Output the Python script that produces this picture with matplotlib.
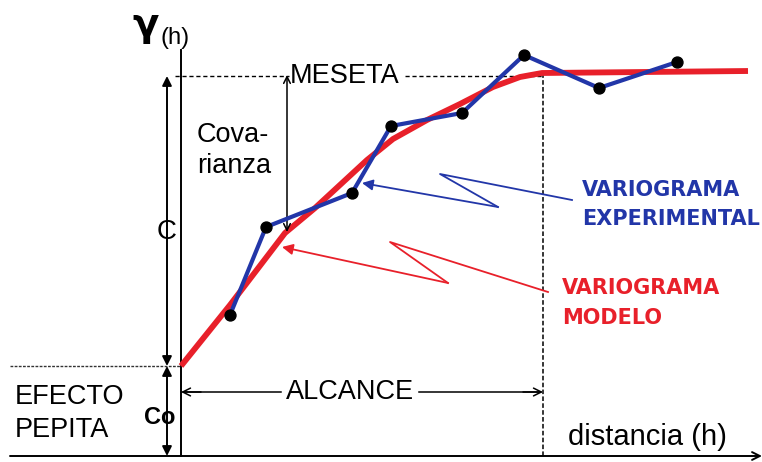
import matplotlib
matplotlib.use("Agg")
import matplotlib.pyplot as plt

# Experimental variogram (distance h, gamma)
exp_h = [49, 85, 171, 210, 281, 343, 418, 496]
exp_g = [141, 229, 263, 330, 343, 401, 368, 394]

# Model variogram curve points
mod_h = [0, 49, 104, 134, 186, 212, 246, 279, 312, 339, 361, 567]
mod_g = [90, 151, 223, 248, 296, 317, 336, 352, 369, 379, 383, 385]

nugget = 90      # Co level
sill = 380       # MESETA level
rango = 362      # ALCANCE

fig = plt.figure(figsize=(7.62, 4.62), dpi=100)
ax = fig.add_axes([0, 0, 1, 1])
ax.set_xlim(-181, 581)
ax.set_ylim(-6, 456)
ax.axis("off")

FONT = "Liberation Sans"
BLUE = "#2236a8"
RED = "#e8202a"

# axes
ax.plot([0, 0], [0, 406], color="black", lw=1.4)
ax.annotate("", xy=(581, 0), xytext=(-171, 0),
            arrowprops=dict(arrowstyle="->", lw=1.4, color="black", mutation_scale=14,
                            shrinkA=0, shrinkB=0))

# nugget dotted line
ax.plot([-171, 0], [nugget, nugget], color="#333333", lw=1.0, ls=(0, (2, 1)))
# sill dashed line (interrupted by text)
ax.plot([-6, 108], [sill, sill], color="black", lw=1.0, ls=(0, (3, 2)))
ax.plot([224, rango], [sill, sill], color="black", lw=1.0, ls=(0, (3, 2)))
# range dashed line
ax.plot([rango, rango], [0, 384], color="black", lw=1.1, ls=(0, (3, 1.5)))

# model & experimental
ax.plot(mod_h, mod_g, color=RED, lw=4.2, solid_capstyle="butt", solid_joinstyle="round", zorder=3)
ax.plot(exp_h, exp_g, color=BLUE, lw=3.0, zorder=4)
ax.scatter(exp_h, exp_g, s=62, color="black", zorder=5)

# C and Co arrows
ap = dict(arrowstyle="<|-|>", lw=1.4, color="black", mutation_scale=14, shrinkA=0, shrinkB=0)
ax.annotate("", xy=(-14, sill), xytext=(-14, nugget), arrowprops=ap)
ax.annotate("", xy=(-14, nugget), xytext=(-14, 0), arrowprops=ap)
ax.text(-14, 224, "C", fontsize=20, family=FONT, ha="center", va="center")
ax.text(-21, 38, "Co", fontsize=17, family=FONT, fontweight="bold", ha="center", va="center")

# Covarianza arrow
ax.annotate("", xy=(106, sill + 1), xytext=(106, 224),
            arrowprops=dict(arrowstyle="<->", lw=1.1, color="black", mutation_scale=12,
                            shrinkA=0, shrinkB=0))
ax.text(16, 321, "Cova-", fontsize=19.5, family=FONT, ha="left", va="center")
ax.text(16, 290, "rianza", fontsize=19.5, family=FONT, ha="left", va="center")
ax.text(109, sill, "MESETA", fontsize=19.5, family=FONT, ha="left", va="center")

# ALCANCE arrow
ax.plot([4, 100], [64, 64], color="black", lw=1.1)
ax.plot([238, rango - 4], [64, 64], color="black", lw=1.1)
ax.annotate("", xy=(0, 64), xytext=(20, 64),
            arrowprops=dict(arrowstyle="->", lw=1.1, color="black", mutation_scale=14,
                            shrinkA=0, shrinkB=0))
ax.annotate("", xy=(rango, 64), xytext=(rango - 20, 64),
            arrowprops=dict(arrowstyle="->", lw=1.1, color="black", mutation_scale=14,
                            shrinkA=0, shrinkB=0))
ax.text(169, 64, "ALCANCE", fontsize=19.5, family=FONT, ha="center", va="center")

# EFECTO PEPITA
ax.text(-166, 59, "EFECTO", fontsize=19.5, family=FONT, ha="left", va="center")
ax.text(-166, 26, "PEPITA", fontsize=19.5, family=FONT, ha="left", va="center")

# axis labels
ax.text(-22, 431, "γ", fontsize=28, family="DejaVu Sans", fontweight="bold",
        ha="right", va="center")
ax.text(-21, 418, "(h)", fontsize=17, family=FONT, ha="left", va="center")
ax.text(387, 19, "distancia (h)", fontsize=21, family=FONT, ha="left", va="center")

# lightning pointers
ax.plot([391, 259, 317], [256, 282, 249], color=BLUE, lw=1.3)
ax.annotate("", xy=(181, 273), xytext=(317, 249),
            arrowprops=dict(arrowstyle="-|>", lw=1.3, color=BLUE, mutation_scale=16,
                            shrinkA=0, shrinkB=0))
ax.plot([367, 209, 267], [164, 214, 173], color=RED, lw=1.3)
ax.annotate("", xy=(101, 209), xytext=(267, 173),
            arrowprops=dict(arrowstyle="-|>", lw=1.3, color=RED, mutation_scale=16,
                            shrinkA=0, shrinkB=0))

ax.text(401, 266, "VARIOGRAMA", fontsize=15, family="DejaVu Sans", fontweight="bold",
        color=BLUE, ha="left", va="center")
ax.text(401, 237, "EXPERIMENTAL", fontsize=15, family="DejaVu Sans", fontweight="bold",
        color=BLUE, ha="left", va="center")
ax.text(381, 168, "VARIOGRAMA", fontsize=15, family="DejaVu Sans", fontweight="bold",
        color=RED, ha="left", va="center")
ax.text(381, 138, "MODELO", fontsize=15, family="DejaVu Sans", fontweight="bold",
        color=RED, ha="left", va="center")

fig.savefig("out.png", dpi=100)
